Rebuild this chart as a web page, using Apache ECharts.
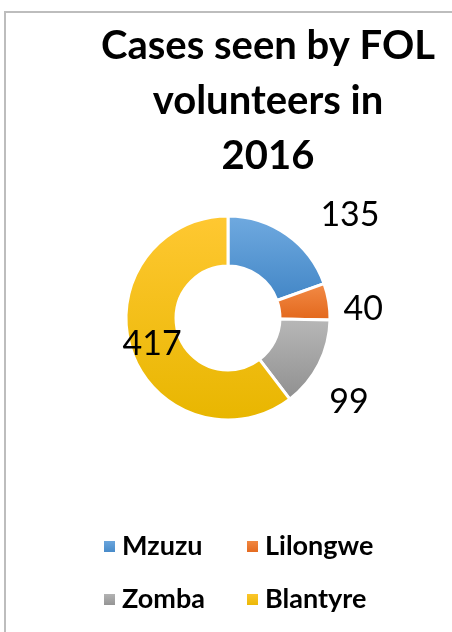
<!DOCTYPE html>
<html>
<head>
<meta charset="utf-8">
<script src="https://cdn.jsdelivr.net/npm/echarts@6/dist/echarts.min.js"></script>
<style>
  html, body { margin: 0; padding: 0; background: #fff; }
  #chart { width: 452px; height: 632px; }
</style>
</head>
<body>
<div id="chart"></div>
<script>
// data
const cities = ['Mzuzu', 'Lilongwe', 'Zomba', 'Blantyre'];
const cases = [135, 40, 99, 417];
const titleText = 'Cases seen by FOL\nvolunteers in\n2016';

// colours (top, bottom of gradient)
const colorsTop = ['#70aae0', '#f38c48', '#b8b8b8', '#ffc832'];
const colorsBottom = ['#4286c6', '#e2661a', '#8f8f8f', '#e8b600'];
// nudges for the value labels
const labelOffsets = [[5, -7], [-20, 10], [-23, 31], [0, 0]];

const grad = (i) => new echarts.graphic.LinearGradient(0, 0, 0, 1, [
    { offset: 0, color: colorsTop[i] },
    { offset: 1, color: colorsBottom[i] }
]);

const mChart = echarts.init(document.getElementById('chart'));

const legendBase = {
    orient: 'vertical',
    top: 528,
    itemWidth: 13,
    itemHeight: 13,
    itemGap: 26,
    icon: 'rect',
    textStyle: { fontFamily: 'Lato', fontWeight: 'bold', fontSize: 27, color: '#000', padding: [0, 0, 0, 1] }
};

const options = {
    animation: false,
    backgroundColor: '#fff',
    title: {
        text: titleText,
        left: 263,
        top: 14,
        textAlign: 'center',
        textStyle: {
            fontFamily: 'Lato',
            fontWeight: 'bold',
            fontSize: 40,
            lineHeight: 55,
            color: '#000'
        }
    },
    legend: [
        Object.assign({}, legendBase, { left: 97, data: [cities[0], cities[2]] }),
        Object.assign({}, legendBase, { left: 240, data: [cities[1], cities[3]] })
    ],
    graphic: [{
        type: 'rect',
        shape: { x: 5, y: 12, width: 460, height: 640 },
        style: { fill: 'none', stroke: '#bdbdbd', lineWidth: 2 },
        silent: true
    }],
    series: [{
        type: 'pie',
        center: [228, 318],
        radius: [52, 102],
        startAngle: 90,
        clockwise: true,
        avoidLabelOverlap: false,
        label: { show: true, position: 'outside', formatter: '{c}', fontFamily: 'Lato', fontSize: 34, color: '#000' },
        labelLine: { show: false, length: 15, length2: 15 },
        itemStyle: { borderColor: '#fff', borderWidth: 3 },
        data: cities.map((name, i) => ({
            name: name,
            value: cases[i],
            itemStyle: { color: grad(i) },
            label: i === 3 ? { position: 'inside' } : { offset: labelOffsets[i] }
        }))
    }]
};
mChart.setOption(options);
</script>
</body>
</html>
